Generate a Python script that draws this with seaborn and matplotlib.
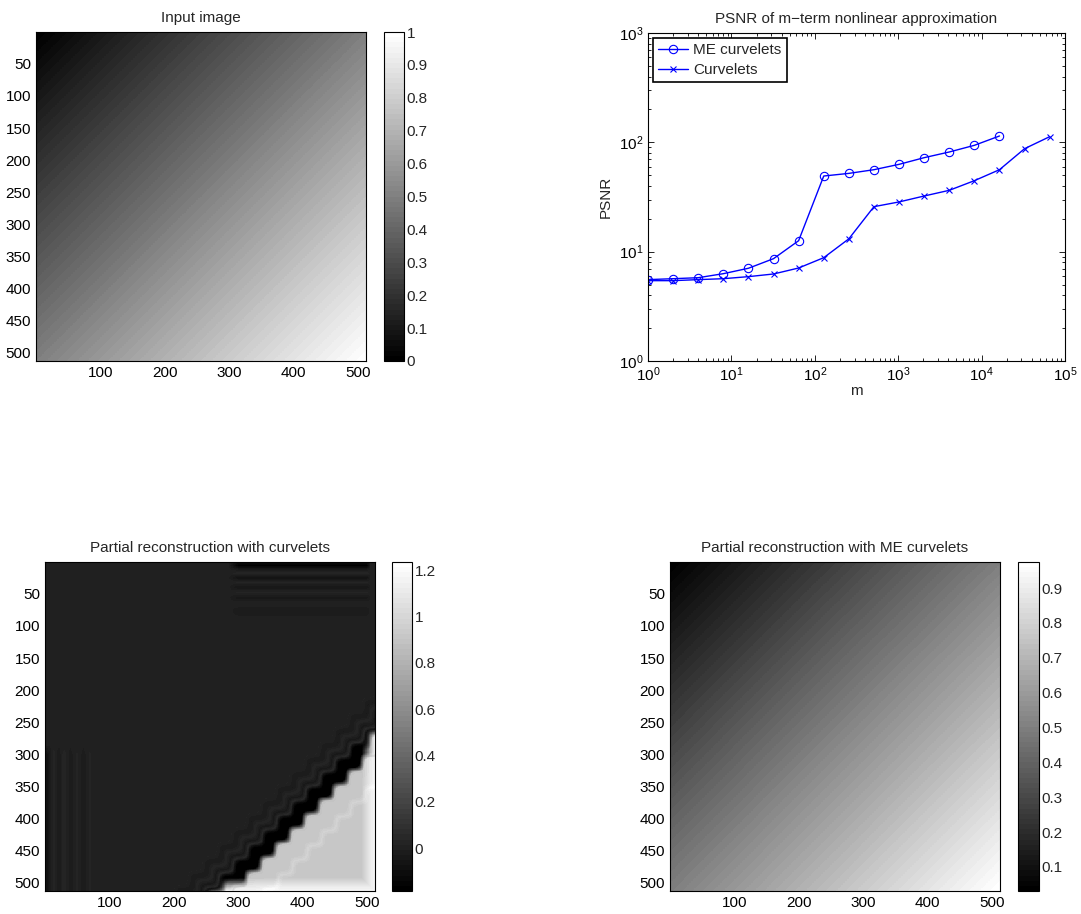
import numpy as np
import pandas as pd
import matplotlib
matplotlib.use("Agg")
import matplotlib.pyplot as plt
import seaborn as sns
from matplotlib.colors import ListedColormap
from matplotlib.ticker import LogLocator, NullFormatter

# PSNR of m-term approximation
m_me = [1, 2, 4, 8, 16, 32, 64, 128, 256, 512, 1024, 2048, 4096, 8192, 16384]
psnr_me = [5.55, 5.66, 5.78, 6.29, 7.05, 8.63, 12.6, 49.2, 52.0, 56.2, 62.9, 72.4, 81.6, 93.9, 114.3]
m_cv = [1, 2, 4, 8, 16, 32, 64, 128, 256, 512, 1024, 2048, 4096, 8192, 16384, 32768, 65536]
psnr_cv = [5.43, 5.43, 5.55, 5.66, 5.91, 6.25, 7.09, 8.81, 13.1, 25.8, 28.5, 32.3, 36.4, 44.6, 56.2, 87.5, 112.7]

# image corner values (top-left, top-right / bottom-left, bottom-right)
input_corners = [[0.0, 0.5], [0.5, 1.0]]
me_corners = [[0.031, 0.50], [0.50, 0.975]]

# curvelet reconstruction: profile across the diagonal edge (x + y - 810)
diag_offset = [-115, -95, -80, -66, -54, -45, -40, -34, -12, -6, 2, 40, 50, 60]
diag_level = [0.0, 0.015, -0.03, 0.03, -0.04, 0.05, -0.08, -0.18, -0.18, 0.25, 0.9, 0.92, 0.98, 0.92]
wobble_amp = 6
wobble_period = 45
# stripes near top-right and bottom-left borders
top_rows = [1, 6, 12, 18, 25, 32, 40, 48, 56, 65, 75, 90]
top_vals = [-0.1, -0.17, -0.03, 0.03, -0.07, 0.02, -0.05, 0.02, -0.04, 0.01, -0.02, 0.0]
left_cols = [1, 6, 14, 22, 30, 40, 50, 60, 70, 80]
left_vals = [-0.1, -0.06, 0.03, -0.03, 0.03, -0.02, 0.02, -0.02, 0.02, 0.0]
edge_dist = [0, 8, 20]
edge_vals = [0.25, 0.18, 0.0]

img_ticks = [100, 200, 300, 400, 500]
img_yticks = [50, 100, 150, 200, 250, 300, 350, 400, 450, 500]
N = 512

xx, yy = np.meshgrid(np.arange(1, N + 1), np.arange(1, N + 1))
u = (xx - 1) / (N - 1)
v = (yy - 1) / (N - 1)


def bilinear(c):
    return (c[0][0] * (1 - u) * (1 - v) + c[0][1] * u * (1 - v)
            + c[1][0] * (1 - u) * v + c[1][1] * u * v)


img_input = bilinear(input_corners)
img_me = bilinear(me_corners)

d = xx + yy - 810 + wobble_amp * np.sin(2 * np.pi * (xx - yy) / wobble_period)
img_cv = np.interp(d, diag_offset, diag_level)
tri = np.clip((d + 5) / 10, 0, 1)
tri_edge = np.clip((d + 40) / 20, 0, 1)
edge = np.maximum(np.interp(N - yy, edge_dist, edge_vals), np.interp(N - xx, edge_dist, edge_vals))
w = (tri_edge - tri).clip(0, 1) * edge / edge_vals[0]
img_cv = img_cv * (1 - w) + (0.9 + edge) * w + edge * tri
top_mask = np.clip((xx - 285) / 15, 0, 1) * np.clip((506 - xx) / 6, 0, 1)
img_cv = img_cv + np.interp(yy, top_rows, top_vals) * top_mask * (1 - tri_edge)
left_mask = np.clip((yy - 285) / 15, 0, 1)
img_cv = img_cv + np.interp(xx, left_cols, left_vals) * left_mask

sns.set_style("ticks")
plt.rcParams["font.family"] = ["Liberation Sans", "DejaVu Sans"]
plt.rcParams["mathtext.fontset"] = "custom"
plt.rcParams["mathtext.rm"] = "Liberation Sans"
plt.rcParams["font.size"] = 11

gray64 = ListedColormap(plt.cm.gray(np.linspace(0, 1, 64)))

W, H = 1081, 914
fig = plt.figure(figsize=(W / 100, H / 100), dpi=100)


def box(x0, y0, x1, y1):
    return [x0 / W, 1 - y1 / H, (x1 - x0) / W, (y1 - y0) / H]


def style_ticks(ax):
    ax.tick_params(direction="in", top=True, right=True, which="both",
                   length=4, width=0.6, labelsize=11, colors="black")
    for s in ax.spines.values():
        s.set_visible(True)
        s.set_linewidth(0.8)
        s.set_color("black")


def show_image(img, title, im_box, cb_box, vmin, vmax, cticks, clabels):
    ax = fig.add_axes(box(*im_box))
    cax = fig.add_axes(box(*cb_box))
    sns.heatmap(img, ax=ax, cbar_ax=cax, cmap=gray64, vmin=vmin, vmax=vmax,
                xticklabels=False, yticklabels=False, rasterized=True)
    ax.set_xticks([t - 0.5 for t in img_ticks])
    ax.set_xticklabels([str(t) for t in img_ticks], rotation=0)
    ax.set_yticks([t - 0.5 for t in img_yticks])
    ax.set_yticklabels([str(t) for t in img_yticks], rotation=0)
    ax.set_title(title, fontsize=11, pad=7)
    style_ticks(ax)
    cb = ax.collections[0].colorbar
    cb.outline.set_linewidth(0.8)
    cb.outline.set_edgecolor("black")
    cb.set_ticks(cticks)
    cb.set_ticklabels(clabels)
    cax.tick_params(direction="in", left=True, right=True, length=4, width=0.6,
                    labelsize=11, pad=2)


t1 = [round(0.1 * i, 1) for i in range(11)]
show_image(img_input, "Input image", (36, 32, 366, 361), (384, 32, 404, 361),
           0, 1, t1, ["0"] + [f"{t:g}" for t in t1[1:-1]] + ["1"])

t2 = [0, 0.2, 0.4, 0.6, 0.8, 1.0, 1.2]
show_image(img_cv, "Partial reconstruction with curvelets", (45, 562, 375, 891),
           (392, 562, 412, 891), -0.185, 1.235, t2, ["0", "0.2", "0.4", "0.6", "0.8", "1", "1.2"])

t3 = [0.1, 0.2, 0.3, 0.4, 0.5, 0.6, 0.7, 0.8, 0.9]
show_image(img_me, "Partial reconstruction with ME curvelets", (670, 562, 1000, 891),
           (1018, 562, 1039, 891), 0.031, 0.975, t3, [f"{t:g}" for t in t3])

# PSNR curves
ax = fig.add_axes(box(648, 33, 1065, 361))
df_me = pd.DataFrame({"m": m_me, "PSNR": psnr_me})
df_cv = pd.DataFrame({"m": m_cv, "PSNR": psnr_cv})
sns.lineplot(data=df_me, x="m", y="PSNR", ax=ax, color="blue", marker="o", ms=6,
             mfc="none", mec="blue", mew=0.8, lw=1, label="ME curvelets")
sns.lineplot(data=df_cv, x="m", y="PSNR", ax=ax, color="blue", marker="x", ms=4,
             mec="blue", mew=0.8, lw=1, label="Curvelets")
ax.set_xscale("log")
ax.set_yscale("log")
ax.set_xlim(1, 1e5)
ax.set_ylim(1, 1e3)
ax.xaxis.set_major_locator(LogLocator(base=10, numticks=10))
ax.yaxis.set_major_locator(LogLocator(base=10, numticks=10))
ax.xaxis.set_minor_locator(LogLocator(base=10, subs=np.arange(2, 10), numticks=20))
ax.yaxis.set_minor_locator(LogLocator(base=10, subs=np.arange(2, 10), numticks=20))
ax.xaxis.set_minor_formatter(NullFormatter())
ax.yaxis.set_minor_formatter(NullFormatter())
ax.set_xlabel("m", fontsize=11, labelpad=0)
ax.set_ylabel("PSNR", fontsize=11)
ax.set_title("PSNR of m\u2212term nonlinear approximation", fontsize=11, pad=7)
style_ticks(ax)
ax.tick_params(which="minor", length=2.5)
leg = ax.legend(loc="upper left", fancybox=False, edgecolor="black", framealpha=1,
                fontsize=11, borderaxespad=0.3, handlelength=2.0, handletextpad=0.3,
                borderpad=0.35, labelspacing=0.4)
leg.get_frame().set_linewidth(1.2)

fig.savefig("out.png", dpi=100)
